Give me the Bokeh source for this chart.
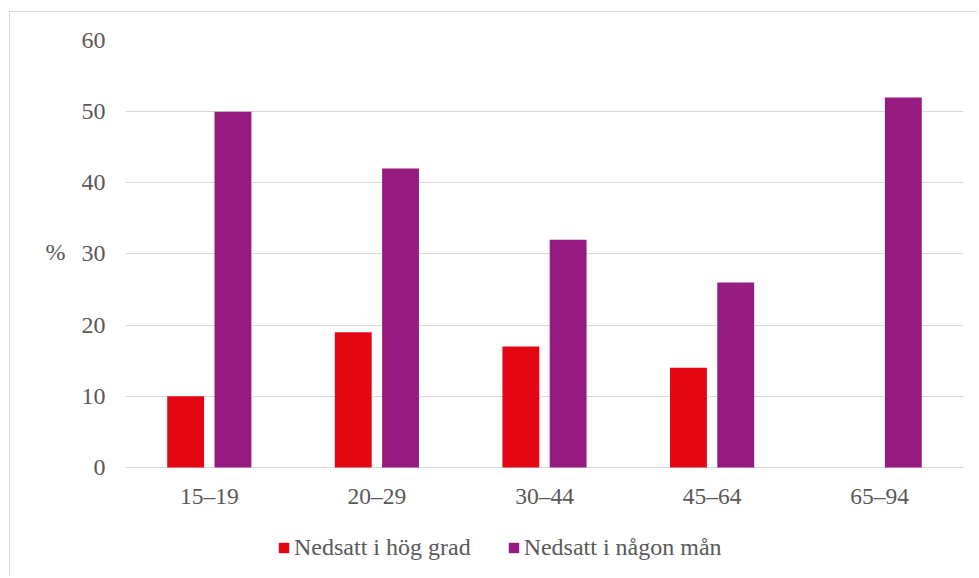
from bokeh.plotting import figure
from bokeh.models import ColumnDataSource, FactorRange, Legend, LegendItem
from bokeh.core.properties import value
from bokeh.transform import dodge
from bokeh.embed import file_html
from bokeh.resources import INLINE

categories = ["15–19", "20–29", "30–44", "45–64", "65–94"]
hog_grad = [10, 19, 17, 14, float("nan")]
nagon_man = [50, 42, 32, 26, 52]
series_names = ["Nedsatt i hög grad", "Nedsatt i någon mån"]
y_ticks = [0, 10, 20, 30, 40, 50, 60]

FONT = "'Liberation Serif', 'Times New Roman', serif"
TXT = "#595959"
RED = "#E30613"
PURPLE = "#951B81"

src = ColumnDataSource(dict(cat=categories, hog=hog_grad, nagon=nagon_man))

# frame extends below the zero line to host the category labels and the legend
p = figure(x_range=FactorRange(*categories), y_range=(-15.46, 60),
           width=968, height=565, output_backend="svg", toolbar_location=None,
           min_border_left=115, min_border_right=15, min_border_top=28, min_border_bottom=0)
p.styles = {"border-left": "1px solid #d9d9d9", "border-top": "1px solid #d9d9d9",
            "margin-top": "11px", "margin-left": "9px"}
p.outline_line_color = None
p.x_range.range_padding = 0
p.xaxis.visible = False

r1 = p.vbar(x=dodge("cat", -0.141, range=p.x_range), top="hog", bottom=0, width=0.22,
            source=src, fill_color=RED, line_color=None)
r2 = p.vbar(x=dodge("cat", 0.141, range=p.x_range), top="nagon", bottom=0, width=0.22,
            source=src, fill_color=PURPLE, line_color=None)

# category labels under the zero line
p.text(x="cat", y=0, text="cat", source=src, y_offset=29,
       text_align="center", text_baseline="middle",
       text_font=value(FONT), text_font_size=value("23.5px"), text_color=TXT)

p.ygrid.grid_line_color = "#d9d9d9"
p.ygrid.grid_line_width = 1
p.xgrid.grid_line_color = None

p.yaxis.ticker = y_ticks
p.yaxis.bounds = (0, 60)
p.yaxis.axis_line_color = None
p.yaxis.major_tick_line_color = None
p.yaxis.minor_tick_line_color = None
p.yaxis.major_tick_out = 0
p.yaxis.major_tick_in = 0
p.yaxis.major_label_standoff = 20
p.yaxis.major_label_text_font = FONT
p.yaxis.major_label_text_font_size = "24px"
p.yaxis.major_label_text_color = TXT
# blank lines lift the "%" to the middle of the 0–60 span
p.yaxis.axis_label = "%\n\n\n\n"
p.yaxis.axis_label_orientation = "horizontal"
p.yaxis.axis_label_text_font = FONT
p.yaxis.axis_label_text_font_size = "24px"
p.yaxis.axis_label_text_font_style = "normal"
p.yaxis.axis_label_text_color = TXT
p.yaxis.axis_label_text_line_height = 1.1
p.yaxis.axis_label_standoff = 13

legend = Legend(items=[LegendItem(label=series_names[0], renderers=[r1]),
                       LegendItem(label=series_names[1], renderers=[r2])],
                orientation="horizontal", location=(152, 16),
                glyph_width=13, glyph_height=13, label_standoff=4, spacing=36,
                padding=0, margin=0, border_line_color=None, background_fill_alpha=0,
                label_text_font=FONT, label_text_font_size="24px", label_text_color=TXT)
p.add_layout(legend, "center")

open("out.html", "w").write(file_html(p, INLINE))
